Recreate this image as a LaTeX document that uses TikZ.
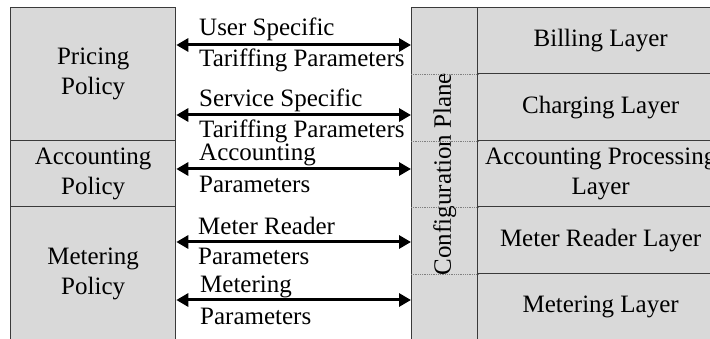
\documentclass[tikz,border=0pt]{standalone}
\usepackage{fontspec}
\setmainfont{Liberation Serif}
\usetikzlibrary{arrows.meta}
\definecolor{boxfill}{HTML}{D9D9D9}
\definecolor{boxline}{HTML}{3A3A3A}
\definecolor{dotline}{HTML}{808080}
\begin{document}
\begin{tikzpicture}[x=1pt,y=-1pt,
  every node/.style={font=\fontsize{25}{30}\selectfont},
  panel/.style={draw=boxline,fill=boxfill,line width=1.3pt,inner sep=0pt,
    anchor=north west,align=center},
  link/.style={line width=3pt,{Triangle[length=12pt,width=13pt]}-{Triangle[length=12pt,width=13pt]}},
  tag/.style={anchor=base west,inner sep=0pt},
  divider/.style={draw=dotline,line width=0.8pt,densely dotted}]
  \path[use as bounding box,clip] (0,0) rectangle (710,339);

  % policy column
  \node[panel,minimum width=165pt,minimum height=133pt] (pricing) at (10,7) {Pricing\\Policy};
  \node[panel,minimum width=165pt,minimum height=66pt] (accpol) at (10,140) {Accounting\\Policy};
  \node[panel,minimum width=165pt,minimum height=134pt] (meterpol) at (10,206) {Metering\\Policy};

  % configuration plane
  \node[panel,minimum width=66pt,minimum height=333pt] (plane) at (411,7) {};
  \node[rotate=90] (planetext) at (plane.center) {Configuration Plane};

  % layer column
  \node[panel,minimum width=246pt,minimum height=66pt] (billing) at (477,7) {Billing Layer};
  \node[panel,minimum width=246pt,minimum height=67pt] (charging) at (477,73) {Charging Layer};
  \node[panel,minimum width=246pt,minimum height=66pt] (accproc) at (477,140) {Accounting Processing\\Layer};
  \node[panel,minimum width=246pt,minimum height=67pt] (reader) at (477,206) {Meter Reader Layer};
  \node[panel,minimum width=246pt,minimum height=67pt] (metering) at (477,273) {Metering Layer};

  % dotted dividers across the plane
  \foreach \n in {billing,charging,accproc,reader}
    \draw[divider] (plane.west |- \n.south) -- (plane.east |- \n.south);

  % parameter exchanges
  \coordinate (r1) at (0,45);
  \coordinate (r2) at (0,115);
  \coordinate (r3) at (0,169);
  \coordinate (r4) at (0,242);
  \coordinate (r5) at (0,300);
  \draw[link] (pricing.east |- r1) -- (plane.west |- r1);
  \draw[link] (pricing.east |- r2) -- (plane.west |- r2);
  \draw[link] (accpol.east |- r3) -- (plane.west |- r3);
  \draw[link] (meterpol.east |- r4) -- (plane.west |- r4);
  \draw[link] (meterpol.east |- r5) -- (plane.west |- r5);

  \node[tag] (t1a) at (199,36) {User Specific};
  \node[tag] (t1b) at (199,67) {Tariffing Parameters};
  \node[tag] (t2a) at (199,107) {Service Specific};
  \node[tag] (t2b) at (199,138) {Tariffing Parameters};
  \node[tag] (t3a) at (199,161) {Accounting};
  \node[tag] (t3b) at (199,193) {Parameters};
  \node[tag] (t4a) at (198,235) {Meter Reader};
  \node[tag] (t4b) at (198,265) {Parameters};
  \node[tag] (t5a) at (200,293) {Metering};
  \node[tag] (t5b) at (200,324) {Parameters};
\end{tikzpicture}
\end{document}
